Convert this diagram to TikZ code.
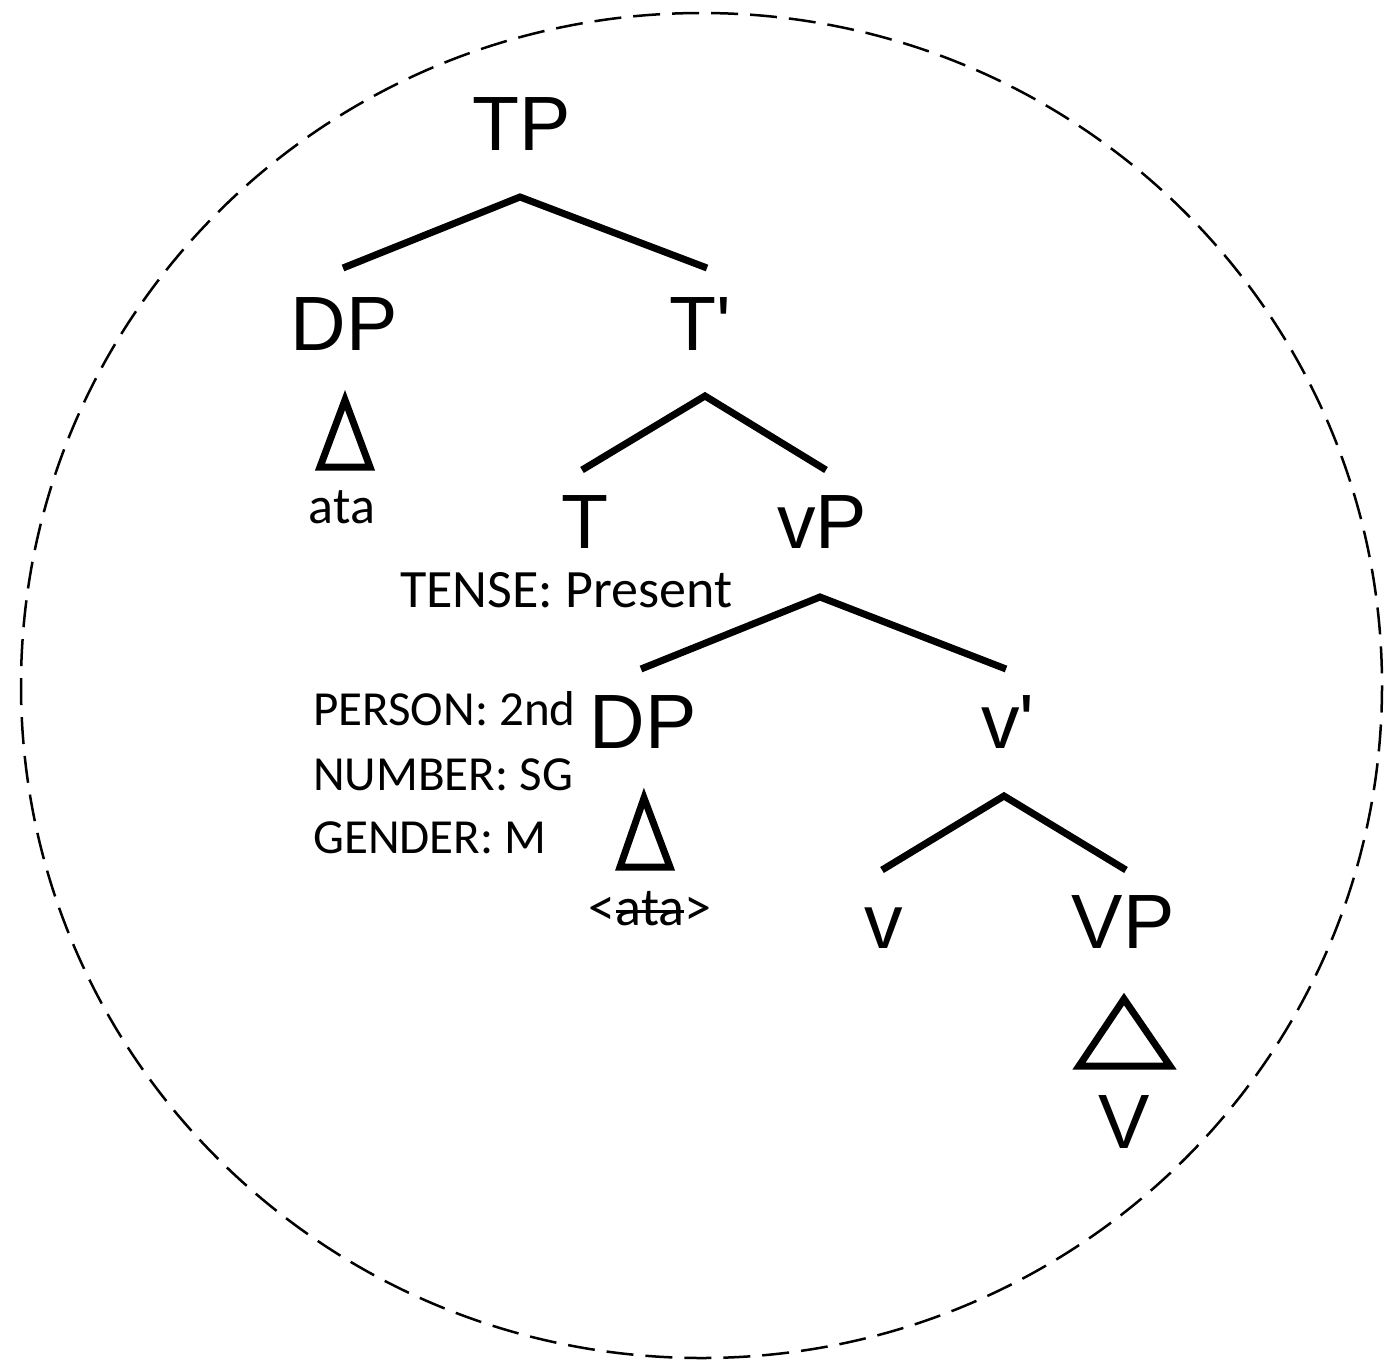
\documentclass[tikz,border=0pt]{standalone}
\usepackage{fontspec}
\setmainfont{Liberation Sans}
\newfontfamily\featfont{Carlito}
\newcommand{\strikeword}[1]{\setbox0\hbox{#1}\rlap{\rule[0.22em]{\wd0}{3pt}}\box0}
\usetikzlibrary{positioning}
\tikzset{
	cat/.style={inner sep=0pt, anchor=base, font=\fontsize{77}{90}\selectfont},
	feat/.style={inner sep=0pt, anchor=base west, font=\featfont\fontsize{49}{58}\selectfont},
	word/.style={inner sep=0pt, anchor=base, font=\featfont\fontsize{52}{60}\selectfont},
	branch/.style={line width=7pt},
	roof/.style={line width=7pt, line join=miter},
	bubble/.style={line width=2.5pt, dash pattern=on 27pt off 12pt}
}

\begin{document}
\begin{tikzpicture}[x=1pt, y=-1pt]
		\useasboundingbox (0,0) rectangle (1399,1362);
		\draw[bubble] (701.5,685.5) ellipse [x radius=680.5, y radius=672.5];
		
		% categories
		\node[cat] (tp) at (522,150) {TP};
		\node[cat] (dp1) at (344,350) {DP};
		\node[cat] (tbar) at (700,350) {T\textquotesingle};
		\node[cat] (t) at (585,548) {T};
		\node[cat] (vp) at (822,548) {vP};
		\node[cat] (dp2) at (643,748) {DP};
		\node[cat] (vbar) at (1008,748) {v\textquotesingle};
		\node[cat] (v) at (884,948) {v};
		\node[cat] (bigvp) at (1123,948) {VP};
		\node[cat] (bigv) at (1124,1148) {V};
		
		% words and features
		\node[word] (ata) at (342,523) {ata};
		\node[word, font=\featfont\fontsize{54}{60}\selectfont] (trace) at (650,925) {<\strikeword{ata}>};
		\node[feat, font=\featfont\fontsize{54}{60}\selectfont] (tense) at (400,607) {TENSE: Present};
		\node[feat] (person) at (313,725) {PERSON: 2nd};
		\node[feat] (number) at (313,790) {NUMBER: SG};
		\node[feat] (gender) at (313,853) {GENDER: M};
		
		% branch ends
		\coordinate (tp-b) at (520,197);
		\coordinate (dp1-t) at (343,268);
		\coordinate (tbar-t) at (707,268);
		\coordinate (tbar-b) at (705,396);
		\coordinate (t-t) at (582,470);
		\coordinate (vp-t) at (826,470);
		\coordinate (vp-b) at (820,597);
		\coordinate (dp2-t) at (641,669);
		\coordinate (vbar-t) at (1006,669);
		\coordinate (vbar-b) at (1004,796);
		\coordinate (v-t) at (882,870);
		\coordinate (bigvp-t) at (1126,870);
		
		\draw[branch] (dp1-t) -- (tp-b) -- (tbar-t);
		\draw[branch] (t-t) -- (tbar-b) -- (vp-t);
		\draw[branch] (dp2-t) -- (vp-b) -- (vbar-t);
		\draw[branch] (v-t) -- (vbar-b) -- (bigvp-t);
		
		% roofs
		\draw[roof] (345,400) -- (320,467) -- (370,467) -- cycle;
		\draw[roof] (644,798) -- (620,867) -- (670,867) -- cycle;
		\draw[roof] (1124,999) -- (1079,1066) -- (1170,1066) -- cycle;
	\end{tikzpicture}
\end{document}
